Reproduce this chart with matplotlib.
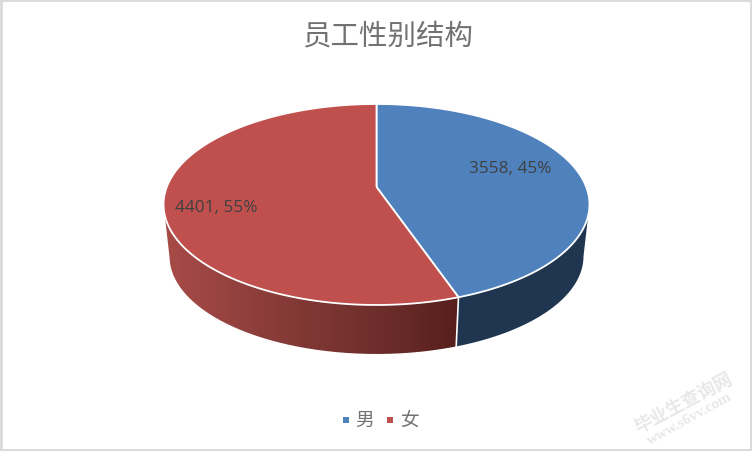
import numpy as np
import matplotlib
matplotlib.use("Agg")
from matplotlib import pyplot as plt
from matplotlib.colors import LinearSegmentedColormap
from matplotlib.patches import PathPatch, Rectangle
from matplotlib.path import Path

plt.rcParams['font.family'] = ['Noto Sans CJK SC', 'DejaVu Sans']

# Data
categories = ['男', '女']
values = [3558, 4401]
title = '员工性别结构'

top_colors = ['#4f81bd', '#c0504d']
label_pos = [(510, 169), (216, 208)]

fig = plt.figure(figsize=(7.52, 4.52), dpi=100, facecolor='white')
ax = fig.add_axes([0, 0, 1, 1])
ax.set_xlim(0, 752)
ax.set_ylim(452, 0)
ax.axis('off')

# chart frame
ax.add_patch(Rectangle((1, 1), 750, 450, fill=False, ec='#d9d9d9', lw=2))

# the Excel 3D pie is a circle seen in perspective
cx, cy = 376.5, 188
k = 0.174
A, B = 97.45, 209.7
shrink, depth = 0.972, 52.3


def project(theta, bottom=False):
    # theta is clockwise from twelve o'clock, radians
    u, v = np.sin(theta), np.cos(theta)
    x = B * u / (1 + k * v)
    y = -A * v / (1 + k * v)
    if bottom:
        return cx + shrink * x, cy + depth + shrink * y
    return cx + x, cy + y


def arc(a, b, bottom=False):
    t = np.linspace(a, b, 200)
    x, y = project(t, bottom)
    return np.column_stack([x, y])


fractions = np.array(values) / sum(values)
bounds = np.concatenate([[0], np.cumsum(fractions) * 2 * np.pi])
right_edge = np.arccos(-k)
left_edge = 2 * np.pi - right_edge

# walls
split = bounds[1]
blue_wall = np.vstack([arc(right_edge, split), arc(right_edge, split, True)[::-1]])
ax.add_patch(PathPatch(Path(blue_wall), fc='#1f3550', ec='none', zorder=2))

red_wall = np.vstack([arc(split, left_edge), arc(split, left_edge, True)[::-1]])
wall_patch = PathPatch(Path(red_wall), fc='none', ec='none', zorder=2)
ax.add_patch(wall_patch)
wall_cmap = LinearSegmentedColormap.from_list(
    'wall', ['#a84b47', '#93413e', '#7f3734', '#6c2d2a', '#571f1c'])
grad = ax.imshow(np.linspace(0, 1, 256)[None, :], cmap=wall_cmap, aspect='auto',
                 extent=(163, 458, 360, 200), zorder=2)
grad.set_clip_path(wall_patch)
ax.set_xlim(0, 752)
ax.set_ylim(452, 0)

# white line between the two walls
ax.plot(*zip(project(split), project(split, True)), color='white', lw=1.2, zorder=3)

# top faces
for i in range(len(values)):
    face = np.vstack([[cx, cy], arc(bounds[i], bounds[i + 1]), [cx, cy]])
    ax.add_patch(PathPatch(Path(face), fc=top_colors[i], ec='white', lw=1.3,
                           joinstyle='miter', zorder=4))

# data labels
for i in range(len(values)):
    ax.text(label_pos[i][0], label_pos[i][1],
            '%d, %d%%' % (values[i], round(fractions[i] * 100)),
            family='Open Sans', fontsize=12.4, color='#404040',
            ha='center', va='center', zorder=5)

ax.text(388, 36, title, fontsize=20.5, color='#727272', ha='center', va='center',
        fontweight='light')

# legend
for name, color, sx, tx in zip(categories, top_colors, [343, 387], [365, 410]):
    ax.add_patch(Rectangle((sx, 418), 6, 6, fc=color, ec='none'))
    ax.text(tx, 420, name, fontsize=13.5, color='#737373', ha='center', va='center',
            fontweight='light')

# watermark
ax.text(683, 403, '毕业生查询网', fontsize=13, color='#e8e8e8', rotation=28,
        ha='center', va='center', fontweight='bold', rotation_mode='anchor')
ax.text(690, 419, 'www.s6vv.com', fontsize=11, color='#e8e8e8', rotation=29,
        ha='center', va='center', fontweight='bold', rotation_mode='anchor',
        family='Liberation Serif')

fig.savefig('out.png', dpi=100)
